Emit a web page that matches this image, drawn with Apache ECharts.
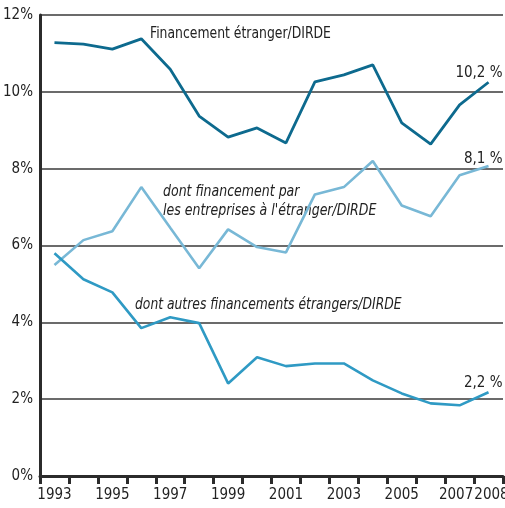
<!DOCTYPE html>
<html>
<head>
<meta charset="utf-8">
<script src="https://cdn.jsdelivr.net/npm/echarts@6/dist/echarts.min.js"></script>
<style>
  html, body { margin: 0; padding: 0; background: #fff; }
  #main { width: 505px; height: 508px; }
</style>
</head>
<body>
<div id="main"></div>
<script>
// années
var years = ['1993', '1994', '1995', '1996', '1997', '1998', '1999', '2000',
  '2001', '2002', '2003', '2004', '2005', '2006', '2007', '2008'];
// Financement étranger/DIRDE (%)
var financementEtranger = [11.28, 11.24, 11.11, 11.38, 10.59, 9.37, 8.82, 9.06,
  8.67, 10.26, 10.44, 10.70, 9.19, 8.64, 9.66, 10.25];
// dont financement par les entreprises à l'étranger/DIRDE (%)
var entreprisesEtranger = [5.49, 6.14, 6.37, 7.52, 6.46, 5.41, 6.42, 5.96,
  5.82, 7.33, 7.52, 8.20, 7.04, 6.76, 7.83, 8.07];
// dont autres financements étrangers/DIRDE (%)
var autresFinancements = [5.80, 5.12, 4.78, 3.85, 4.13, 3.98, 2.41, 3.09,
  2.86, 2.93, 2.93, 2.49, 2.15, 1.89, 1.84, 2.18];
// étiquettes de fin de courbe
var lastLabels = ['10,2 %', '8,1 %', '2,2 %'];
// années affichées sur l'axe
var shownYears = ['1993', '1995', '1997', '1999', '2001', '2003', '2005'];
// les deux dernières sont posées sur des axes à part (décalées pour ne pas se toucher)
var prevYear = '2007';
var lastYear = '2008';

var FONT = "'Liberation Sans Narrow', 'DejaVu Sans Condensed', sans-serif";

function endLabel(text, offset) {
  return {
    show: true,
    formatter: text,
    align: 'right',
    verticalAlign: 'middle',
    distance: 0,
    offset: offset,
    color: '#222',
    fontSize: 15,
    fontFamily: FONT
  };
}

function labelAxis(year, padding) {
  return {
    type: 'category',
    data: years,
    position: 'bottom',
    boundaryGap: true,
    axisLine: { show: false },
    axisTick: { show: false },
    axisLabel: {
      interval: function(index, value) { return value === year; },
      color: '#222',
      fontSize: 15,
      fontFamily: FONT,
      margin: 12,
      padding: padding,
      hideOverlap: false,
      showMinLabel: true,
      showMaxLabel: true
    },
    splitLine: { show: false }
  };
}

var myChart = echarts.init(document.getElementById('main'));
var option = {
  animation: false,
  backgroundColor: '#fff',
  grid: {
    left: 40,
    right: 2,
    top: 15,
    bottom: 32,
    containLabel: false,
    outerBoundsMode: 'none'
  },
  xAxis: [
    {
      type: 'category',
      data: years,
      boundaryGap: true,
      axisLine: { show: true, lineStyle: { color: '#2b2b2b', width: 3 } },
      axisTick: { show: true, interval: 0, length: 8, alignWithLabel: false,
        lineStyle: { color: '#2b2b2b', width: 3 } },
      axisLabel: {
        interval: function(index, value) { return shownYears.indexOf(value) >= 0; },
        color: '#222',
        fontSize: 15,
        fontFamily: FONT,
        margin: 12,
        hideOverlap: false,
        showMinLabel: true,
        showMaxLabel: true
      },
      splitLine: { show: false }
    },
    labelAxis(prevYear, [0, 7, 0, 0]),
    labelAxis(lastYear, [0, 0, 0, 6])
  ],
  yAxis: {
    type: 'value',
    min: 0,
    max: 12,
    interval: 2,
    axisLine: { show: true, lineStyle: { color: '#2b2b2b', width: 3 } },
    axisTick: { show: false },
    axisLabel: {
      formatter: '{value}%',
      color: '#222',
      fontSize: 15,
      fontFamily: FONT,
      margin: 7
    },
    splitLine: { show: true, lineStyle: { color: '#3a3a3a', width: 1.5 } }
  },
  graphic: [
    { type: 'text', x: 150, y: 27, scaleX: 0.92,
      style: { text: 'Financement étranger/DIRDE', fill: '#222', fontSize: 15, fontFamily: FONT } },
    { type: 'text', x: 163, y: 183, scaleX: 0.93,
      style: { text: "dont financement par\nles entreprises à l'étranger/DIRDE", fill: '#222',
        fontSize: 15, fontStyle: 'italic', fontFamily: FONT, lineHeight: 19 } },
    { type: 'text', x: 135, y: 298, scaleX: 0.915,
      style: { text: 'dont autres financements étrangers/DIRDE', fill: '#222',
        fontSize: 15, fontStyle: 'italic', fontFamily: FONT } }
  ],
  series: [
    {
      name: 'Financement étranger/DIRDE',
      type: 'line',
      data: financementEtranger,
      symbol: 'none',
      lineStyle: { color: '#0d6a8e', width: 2.8 },
      itemStyle: { color: '#0d6a8e' },
      endLabel: endLabel(lastLabels[0], [14, -9])
    },
    {
      name: "dont financement par les entreprises à l'étranger/DIRDE",
      type: 'line',
      data: entreprisesEtranger,
      symbol: 'none',
      lineStyle: { color: '#78b8d6', width: 2.6 },
      itemStyle: { color: '#78b8d6' },
      endLabel: endLabel(lastLabels[1], [14, -7])
    },
    {
      name: 'dont autres financements étrangers/DIRDE',
      type: 'line',
      data: autresFinancements,
      symbol: 'none',
      lineStyle: { color: '#2f9ac4', width: 2.6 },
      itemStyle: { color: '#2f9ac4' },
      endLabel: endLabel(lastLabels[2], [14, -9])
    }
  ]
};
myChart.setOption(option);
</script>
</body>
</html>
